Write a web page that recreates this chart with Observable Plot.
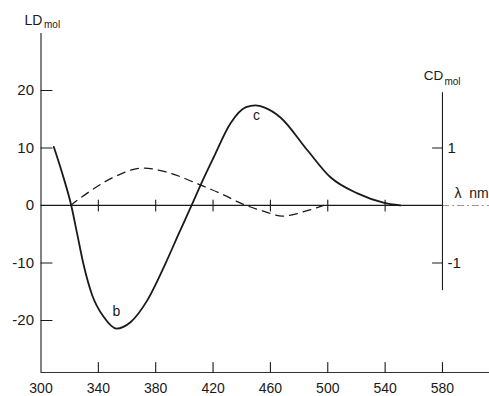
<!DOCTYPE html>
<html>
<head>
<meta charset="utf-8">
<script src="https://cdn.jsdelivr.net/npm/d3@7"></script>
<script src="https://cdn.jsdelivr.net/npm/@observablehq/plot@0.6"></script>
<style>
  html, body { margin: 0; padding: 0; background: #fff; }
  #chart svg { display: block; }
</style>
</head>
<body>
<div id="chart"></div>
<script>
// ---- data ----
// LD (solid curve), wavelength in nm
const ldWavelength = [308.9, 314.8, 321.1, 325.2, 329.8, 335.7, 343.8, 352.6, 362.4, 374.1, 386.8, 396.1, 405.0, 411.2, 420.3, 432.2, 443.0, 449.6, 456.0, 467.0, 485.8, 501.9, 520.7, 538.8, 550.6];
const ldValue      = [10.2,  5.6,   0.0,  -4.9, -10.4, -15.6, -19.4, -21.4, -20.3, -16.5, -10.1,  -4.9,   0.0,   3.5,   8.3,  14.3,  17.1,  17.4,  17.0,  15.3,   9.6,   4.9,   2.1,   0.5,   0.0];
// CD (dashed curve), wavelength in nm, value in CD units
const cdWavelength = [320.6, 327.5, 350.6, 370.6, 390.3, 409.8, 425.1, 441.2, 457.7, 468.2, 485.6, 497.2];
const cdValue      = [0.0,   0.13,  0.49,  0.65,  0.56,  0.37,  0.21,  0.02, -0.12, -0.185, -0.09, 0.0];
const cdToLd = 10;             // CD axis: 1 unit = 10 LD units

const xTickLabels = [300, 340, 380, 420, 460, 500, 540, 580];
const xInnerTicks = [340, 380, 420, 460, 500, 540];
const ldTickLabels = [20, 10, 0, -10, -20];
const ldTicks = [20, 10, -10, -20];
const cdTicks = [1, -1];
const cdAxisExtent = [-1.48, 1.96];

const xDomain = [300, 612.8];
const yDomain = [-29.04, 29.9];
const cdAxisAt = 580;

const ld = ldWavelength.map((w, i) => ({w, v: ldValue[i]}));
const cd = cdWavelength.map((w, i) => ({w, v: cdValue[i] * cdToLd}));

const up = {draw(ctx, l) { ctx.moveTo(0, 0); ctx.lineTo(0, -l); }};
const font = "Liberation Sans, Arial, sans-serif";
const ink = "#1a1a1a";

const chart = Plot.plot({
  width: 489,
  height: 396,
  marginLeft: 40.5,
  marginRight: 0,
  marginTop: 33,
  marginBottom: 24,
  style: {fontFamily: font, background: "#fff", color: ink},
  x: {domain: xDomain, label: null},
  y: {domain: yDomain, label: null},
  marks: [
    // axes lines
    Plot.ruleX([xDomain[0]], {y1: yDomain[0], y2: yDomain[1], stroke: ink, strokeWidth: 1.1}),
    Plot.ruleY([yDomain[0]], {x1: xDomain[0], x2: xDomain[1], stroke: "#333", strokeWidth: 1.1}),
    Plot.ruleY([0], {x1: xDomain[0], x2: cdAxisAt, stroke: ink, strokeWidth: 1.3}),
    Plot.ruleY([0], {x1: cdAxisAt, x2: xDomain[1], stroke: "#999", strokeWidth: 1.1, strokeDasharray: "7,3,2,3"}),
    Plot.ruleX([cdAxisAt], {y1: cdAxisExtent[0] * cdToLd, y2: cdAxisExtent[1] * cdToLd, stroke: ink, strokeWidth: 1.1}),
    // ticks
    Plot.vector(xInnerTicks.concat([cdAxisAt]), {x: d => d, y: yDomain[0], length: 10, anchor: "start", shape: up, stroke: ink, strokeWidth: 1.1}),
    Plot.vector(xInnerTicks, {x: d => d, y: 0, length: 11, anchor: "middle", shape: up, stroke: ink, strokeWidth: 1.1}),
    Plot.vector(ldTicks, {x: xDomain[0], y: d => d, length: 11, rotate: 90, anchor: "start", shape: up, stroke: ink, strokeWidth: 1.1}),
    Plot.vector(cdTicks, {x: cdAxisAt, y: d => d * cdToLd, length: 10, rotate: -90, anchor: "start", shape: up, stroke: ink, strokeWidth: 1.1}),
    // tick labels
    Plot.axisX({ticks: xTickLabels, tickSize: 0, tickPadding: 11, fontSize: 14, tickFormat: d => String(d), fill: ink, label: null}),
    Plot.axisY({ticks: ldTickLabels, tickSize: 0, tickPadding: 7, fontSize: 15, tickFormat: d => String(d), fill: ink, label: null}),
    Plot.text(cdTicks, {x: cdAxisAt, y: d => d * cdToLd, text: d => String(d), dx: 5, textAnchor: "start", fontSize: 15, fill: ink}),
    // axis titles
    Plot.text(["LD"], {x: xDomain[0], y: yDomain[1], text: d => d, dx: -7.5, dy: -13, fontSize: 14, fill: ink}),
    Plot.text(["mol"], {x: xDomain[0], y: yDomain[1], text: d => d, dx: 3, dy: -9, fontSize: 10, textAnchor: "start", fill: ink}),
    Plot.text(["CD"], {x: cdAxisAt, y: cdAxisExtent[1] * cdToLd, text: d => d, dx: -9, dy: -17.5, fontSize: 13.5, fill: ink}),
    Plot.text(["mol"], {x: cdAxisAt, y: cdAxisExtent[1] * cdToLd, text: d => d, dx: 2, dy: -11, fontSize: 10, textAnchor: "start", fill: ink}),
    Plot.text(["λ  nm"], {x: cdAxisAt, y: 0, text: d => d, dx: 12, dy: -12, fontSize: 14, textAnchor: "start", fill: ink}),
    // curves
    Plot.line(cd, {x: "w", y: "v", curve: "monotone-x", stroke: ink, strokeWidth: 1.3, strokeDasharray: "8,6"}),
    Plot.line(ld, {x: "w", y: "v", curve: "monotone-x", stroke: ink, strokeWidth: 1.8}),
    // curve labels
    Plot.text(["b"], {x: 352.6, y: -18.4, text: d => d, fontSize: 14, fill: ink}),
    Plot.text(["c"], {x: 450.3, y: 15.6, text: d => d, fontSize: 14, fill: ink})
  ]
});
document.getElementById("chart").appendChild(chart);
</script>
</body>
</html>
